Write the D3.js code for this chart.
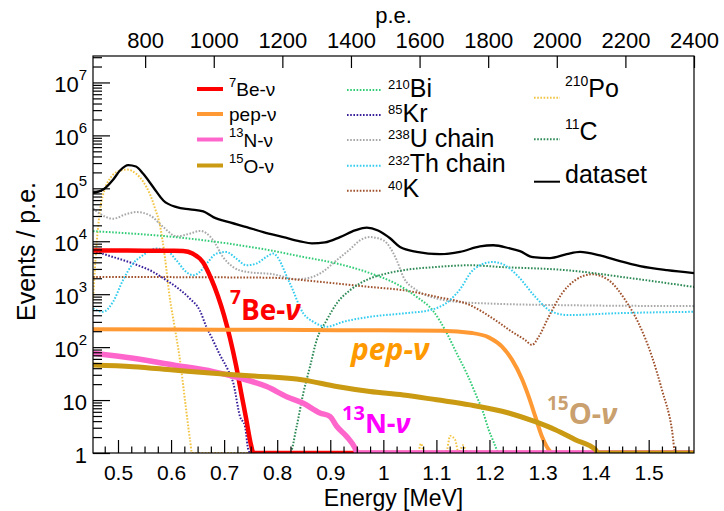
<!DOCTYPE html>
<html><head><meta charset="utf-8">
<script src="https://cdn.jsdelivr.net/npm/d3@7"></script>
<style>body{margin:0;background:#fff}svg{display:block}</style>
</head><body><svg id="c" width="724" height="511"></svg>
<script>
// ---------- axes ----------
const energyDomain = [0.4529, 1.5854];
const peDomain = [648, 2400];
const countDomain = [1, 3.16e7];
const energyTicks = [0.5,0.6,0.7,0.8,0.9,1.0,1.1,1.2,1.3,1.4,1.5];
const energyTickLabels = ["0.5","0.6","0.7","0.8","0.9","1","1.1","1.2","1.3","1.4","1.5"];
const peTicks = [800,1000,1200,1400,1600,1800,2000,2200,2400];
const peTickLabels = ["800","1000","1200","1400","1600","1800","2000","2200","2400"];
const countTicks = [1,10,1e2,1e3,1e4,1e5,1e6,1e7];
const countTickExp = ["0","1","2","3","4","5","6","7"];

// ---------- series (energy MeV, events / p.e.) ----------
const dataE = [0.4529,0.4723,0.4911,0.5038,0.5194,0.5339,0.5471,0.5665,0.5854,0.6106,0.6357,0.6607,0.6796,0.7110,0.7425,0.7738,0.8115,0.8429,0.8655,0.8900,0.9183,0.9466,0.9686,0.9900,1.0126,1.0314,1.0628,1.1067,1.1444,1.1821,1.2072,1.2386,1.2575,1.2820,1.3140,1.3455,1.3706,1.4083,1.4460,1.4836,1.5345,1.5854];
const dataV = [8.2e4,9.5e4,1.47e5,2.17e5,2.75e5,2.58e5,1.9e5,1.05e5,5.9e4,4.4e4,4.0e4,3.66e4,2.86e4,2.27e4,1.85e4,1.49e4,1.2e4,1.0e4,9.1e3,9.5e3,1.2e4,1.6e4,1.81e4,1.6e4,1.14e4,7.8e3,6.3e3,5.7e3,6.3e3,8.0e3,8.4e3,7.3e3,6.5e3,5.0e3,4.8e3,5.7e3,6.3e3,5.4e3,4.2e3,3.4e3,2.84e3,2.5e3];

const be7E = [0.4529,0.5,0.55,0.6,0.6225,0.6413,0.6602,0.6752,0.6884,0.6997,0.7110,0.7223,0.7318,0.7412,0.7506,0.7553,0.76,1.5854];
const be7V = [6.7e3,6.7e3,6.65e3,6.6e3,6.55e3,5.8e3,4.0e3,2.0e3,918,403,149,46,14.3,4.6,1.43,1.0,0.5,0.5];

const pepE = [0.4529,0.6,0.8,0.96,1.11,1.167,1.1985,1.2236,1.2424,1.2612,1.2739,1.2863,1.2989,1.3146,1.32,1.5854];
const pepV = [218,215,212,208,204,185,153,102,58,25,11.6,4.9,2.05,1.07,0.5,0.5];

const n13E = [0.4529,0.5288,0.6042,0.6796,0.7299,0.7802,0.8178,0.8492,0.8806,0.8995,0.9121,0.9309,0.9466,0.9509,0.955,1.5854];
const n13V = [76.5,61.5,46,34.4,25.9,18,11.6,8.7,5.7,4.9,3.2,2.05,1.24,1.0,0.5,0.5];

const o15E = [0.4529,0.5288,0.6042,0.6796,0.7549,0.8492,0.9121,0.9748,1.0376,1.1005,1.1633,1.2362,1.2863,1.3240,1.3617,1.3994,1.405,1.5854];
const o15V = [46,42.8,37,32,28.6,24,18,14.5,12.5,10.1,8.1,5.7,3.9,2.75,1.78,1.16,0.5,0.5];

const bi210E = [0.4529,0.6357,0.7864,0.8492,0.9121,0.9748,1.0252,1.0628,1.0941,1.1194,1.1382,1.1571,1.1746,1.1878,1.1985,1.2085,1.216];
const bi210V = [1.55e4,1.12e4,6.75e3,5.05e3,3.8e3,2.5e3,1.55e3,891,479,185,76.5,32,12.5,6.0,2.75,1.56,0.5];

const kr85E = [0.4529,0.4906,0.5283,0.5660,0.5910,0.6099,0.6351,0.6539,0.6664,0.6758,0.6922,0.7073,0.7173,0.7299,0.7393,0.7455,0.749];
const kr85V = [6.6e3,5.05e3,3.8e3,2.64e3,1.84e3,1.37e3,831,500,243,157,71,37,20.8,4.9,3.2,1.15,0.5];

const u238E = [0.4529,0.4661,0.4911,0.5132,0.5352,0.5603,0.5854,0.6106,0.6351,0.6545,0.6796,0.6978,0.7167,0.7418,0.7921,0.8367,0.8618,0.8844,0.9121,0.9372,0.9560,0.9748,1.0000,1.0252,1.0376,1.0628,1.1005,1.1382,1.1947,1.3366,1.5854];
const u238V = [4.2e4,3.3e4,2.67e4,3.2e4,3.56e4,3.08e4,1.85e4,1.24e4,1.39e4,1.57e4,1.04e4,5.05e3,3.27e3,2.64e3,2.38e3,1.92e3,2.05e3,2.6e3,4.38e3,7.05e3,1.04e4,1.2e4,1.04e4,4.38e3,2.12e3,1.19e3,831,717,669,621,595];

const th232E = [0.4529,0.4718,0.4906,0.5094,0.5283,0.5471,0.5722,0.5910,0.6099,0.6287,0.6413,0.6539,0.6696,0.6852,0.7041,0.7229,0.7418,0.7606,0.7794,0.7920,0.8241,0.8492,0.8680,0.8933,0.9246,0.9748,1.0376,1.0879,1.1256,1.1476,1.1633,1.1821,1.2066,1.2292,1.2550,1.2863,1.3178,1.3493,1.4308,1.5854];
const th232V = [538,465,717,1.84e3,3.79e3,5.43e3,7.27e3,6.75e3,4.38e3,2.63e3,2.28e3,2.63e3,4.06e3,5.85e3,6.27e3,4.71e3,3.52e3,3.79e3,5.05e3,5.85e3,1.59e3,434,301,243,301,374,434,500,772,1.37e3,2.46e3,3.52e3,4.06e3,3.52e3,2.12e3,891,465,403,434,465];

const k40E = [0.4529,0.7864,0.8492,0.9121,0.9748,1.0376,1.1005,1.1633,1.2109,1.2424,1.2675,1.2801,1.2927,1.3116,1.3366,1.3617,1.3932,1.4246,1.4559,1.4811,1.5062,1.5250,1.5439,1.5501,1.553];
const k40V = [2.12e3,2.05e3,1.84e3,1.59e3,1.37e3,1.19e3,891,621,324,195,136,110,157,374,1.03e3,1.84e3,2.38e3,1.84e3,773,281,66,15.6,2.75,1.0,0.5];

const po210E = [0.4529,0.4595,0.4661,0.4755,0.4849,0.5000,0.5170,0.5339,0.5471,0.5603,0.5697,0.5791,0.5886,0.5974,0.6068,0.6168,0.6262,0.6357,0.6395,0.645,1.065,1.071,1.077,1.118,1.126,1.135,1.142,1.150,1.158,1.165];
const po210V = [772,8.4e3,3.83e4,9.9e4,1.53e5,2.08e5,2.26e5,1.9e5,1.35e5,7.7e4,4.2e4,2.0e4,4.8e3,879,239,57,10,1.78,1.0,0.5,0.5,1.5,0.5,0.5,2.1,1.8,0.7,1.4,0.5,0.5];

const c11E = [0.82,0.8241,0.8367,0.8492,0.8618,0.8744,0.8933,0.9121,0.9372,0.9748,1.0063,1.0376,1.1005,1.1633,1.2198,1.3455,1.4710,1.5854];
const c11V = [0.5,1.0,3.2,13.5,42.8,136,324,668,1.19e3,1.98e3,2.46e3,2.84e3,3.27e3,3.52e3,3.27e3,2.84e3,1.98e3,1.37e3];

// ---------- drawing ----------
const L = 93, R = 694, T = 56, B = 453;
const svg = d3.select('#c');
const x = d3.scaleLinear().domain(energyDomain).range([L, R]);
const xTop = d3.scaleLinear().domain(peDomain).range([L, R]);
const y = d3.scaleLog().domain(countDomain).range([B, T]).clamp(true);
const FONT = "'Liberation Sans', Arial, Helvetica, sans-serif";

svg.append('defs').append('clipPath').attr('id','clip')
  .append('rect').attr('x', L).attr('y', T).attr('width', R - L).attr('height', B - T);

const plot = svg.append('g').attr('clip-path', 'url(#clip)');
const line = d3.line().x(d => x(d[0])).y(d => y(d[1])).curve(d3.curveMonotoneX);
function curve(E, V, color, width, dash) {
  const p = plot.append('path').datum(E.map((e, i) => [e, V[i]]))
    .attr('d', line).attr('fill', 'none').attr('stroke', color)
    .attr('stroke-width', width).attr('stroke-linejoin', 'round');
  if (dash) p.attr('stroke-dasharray', dash);
}
const DOT = '1.6 1.6';
const col = {
  be7:'#ff0000', pep:'#ff9933', n13:'#ff66cc', o15:'#c99a12',
  bi:'#33cc77', kr:'#3a1f9a', u:'#a8a8a8', th:'#33ccee', k:'#a0522d',
  po:'#f2c442', c11:'#2e8b57', data:'#000000'
};
curve(po210E, po210V, col.po, 2, DOT);
curve(u238E, u238V, col.u, 2, DOT);
curve(k40E, k40V, col.k, 2, DOT);
curve(bi210E, bi210V, col.bi, 2, DOT);
curve(c11E, c11V, col.c11, 2, DOT);
curve(kr85E, kr85V, col.kr, 2, DOT);
curve(th232E, th232V, col.th, 2, DOT);
curve(be7E, be7V, col.be7, 4.5);
curve(pepE, pepV, col.pep, 4);
curve(n13E, n13V, col.n13, 5.5);
curve(o15E, o15V, col.o15, 5);
curve(dataE, dataV, col.data, 2.3);

// frame
svg.append('rect').attr('x', L).attr('y', T).attr('width', R - L).attr('height', B - T)
  .attr('fill', 'none').attr('stroke', '#000').attr('stroke-width', 1.2);

function styleAxis(g, size) {
  g.select('.domain').remove();
  g.selectAll('.tick line').attr('stroke', '#000').attr('stroke-width', 1.2);
  g.selectAll('text').attr('font-family', FONT).attr('font-size', size || 22).attr('fill', '#000');
}
// bottom axis
const minorE = [];
for (let v = 0.475; v < 1.585; v += 0.025) { const r = Math.round(v * 1000) / 1000; if (!energyTicks.some(t => Math.abs(t - r) < 1e-6)) minorE.push(r); }
svg.append('g').attr('transform', `translate(0,${B})`)
  .call(d3.axisBottom(x).tickValues(minorE).tickSize(-6.5).tickFormat('')).call(styleAxis);
svg.append('g').attr('transform', `translate(0,${B})`)
  .call(d3.axisBottom(x).tickValues(energyTicks).tickSize(-13).tickPadding(12)
    .tickFormat((d, i) => energyTickLabels[i])).call(g => styleAxis(g, 21));
// top axis
svg.append('g').attr('transform', `translate(0,${T})`)
  .call(d3.axisTop(xTop).tickValues(peTicks).tickSize(-12).tickPadding(8)
    .tickFormat((d, i) => peTickLabels[i])).call(styleAxis);
// left axis
const minorY = [];
for (let k = 0; k <= 7; k++) for (let m = 2; m <= 9; m++) { const v = m * Math.pow(10, k); if (v <= countDomain[1]) minorY.push(v); }
svg.append('g').attr('transform', `translate(${L},0)`)
  .call(d3.axisLeft(y).tickValues(minorY).tickSize(-9).tickFormat('')).call(styleAxis);
const yAx = svg.append('g').attr('transform', `translate(${L},0)`)
  .call(d3.axisLeft(y).tickValues(countTicks).tickSize(-17).tickPadding(6).tickFormat(d => '')).call(styleAxis);
yAx.selectAll('.tick text').each(function(d, i) {
  const t = d3.select(this).attr('dy', '0.42em');
  if (i === 0) t.text('1');
  else if (i === 1) t.text('10');
  else { t.append('tspan').text('10'); t.append('tspan').attr('font-size', 15).attr('dy', -12).text(countTickExp[i]); }
});

// axis titles
svg.append('text').attr('x', (L + R) / 2).attr('y', 505.5).attr('text-anchor', 'middle')
  .attr('font-family', FONT).attr('font-size', 23).text('Energy [MeV]');
svg.append('text').attr('x', (L + R) / 2).attr('y', 23).attr('text-anchor', 'middle')
  .attr('font-family', FONT).attr('font-size', 22).text('p.e.');
svg.append('text').attr('transform', 'translate(35,251.5) rotate(-90)').attr('text-anchor', 'middle')
  .attr('font-family', FONT).attr('font-size', 25).text('Events / p.e.');

// legend
function legendText(xp, base, sup, main, mainSize, supSize, supRaise) {
  const t = svg.append('text').attr('x', xp).attr('y', base).attr('font-family', FONT).attr('fill', '#000');
  if (sup) {
    t.append('tspan').attr('font-size', supSize).attr('dy', -supRaise).text(sup);
    t.append('tspan').attr('font-size', mainSize).attr('dy', supRaise).text(main);
  } else t.append('tspan').attr('font-size', mainSize).text(main);
}
function legendLine(x1, x2, yy, color, width, dash) {
  const l = svg.append('line').attr('x1', x1).attr('x2', x2).attr('y1', yy).attr('y2', yy)
    .attr('stroke', color).attr('stroke-width', width);
  if (dash) l.attr('stroke-dasharray', dash);
}
const leg1 = [['7','Be-ν',col.be7,89],['','pep-ν',col.pep,114],['13','N-ν',col.n13,139.5],['15','O-ν',col.o15,165.5]];
leg1.forEach(d => { legendLine(197, 223, d[3], d[2], 4); legendText(229, d[3] + 7, d[0], d[1], 19, 13, 9.5); });
const leg2 = [['210','Bi',col.bi,90],['85','Kr',col.kr,115],['238','U chain',col.u,140],['232','Th chain',col.th,165.7],['40','K',col.k,190.7]];
leg2.forEach(d => { legendLine(347, 382, d[3], d[2], 2, DOT); legendText(388, d[3] + 6.7, d[0], d[1], 25, 13, 7.8); });
const leg3 = [['210','Po',col.po,97.7,96.7,true],['11','C',col.c11,139.3,140,true],['','dataset',col.data,181.7,182.7,false]];
leg3.forEach(d => { legendLine(534, 560, d[3], d[2], 2, d[5] ? DOT : null); legendText(565, d[4], d[0], d[1], 25, 14, 11); });

// annotations
const AF = "'Open Sans', 'Liberation Sans', sans-serif";
function annot(xp, base, supBase, sup, supSize, main, mainSize, color, allItalic) {
  const t = svg.append('text').attr('x', xp).attr('y', base).attr('font-family', AF)
    .attr('font-weight', 'bold').attr('fill', color);
  if (sup) t.append('tspan').attr('y', supBase).attr('font-size', supSize).text(sup);
  t.append('tspan').attr('y', base).attr('font-size', mainSize).attr('font-style', allItalic ? 'italic' : 'normal').text(main);
  t.append('tspan').attr('font-size', mainSize).attr('font-style', 'italic').text('ν');
}
annot(230, 320, 304, '7', 19, 'Be-', 28, '#ff0000', false);
annot(351, 360, 0, '', 0, 'pep-', 30, '#ff9900', true);
annot(342, 432.5, 420, '13', 20, 'N-', 27, '#ff00ff', false);
annot(547, 423.5, 410, '15', 19, 'O-', 29, '#c9a06e', false);
</script>
</body></html>
